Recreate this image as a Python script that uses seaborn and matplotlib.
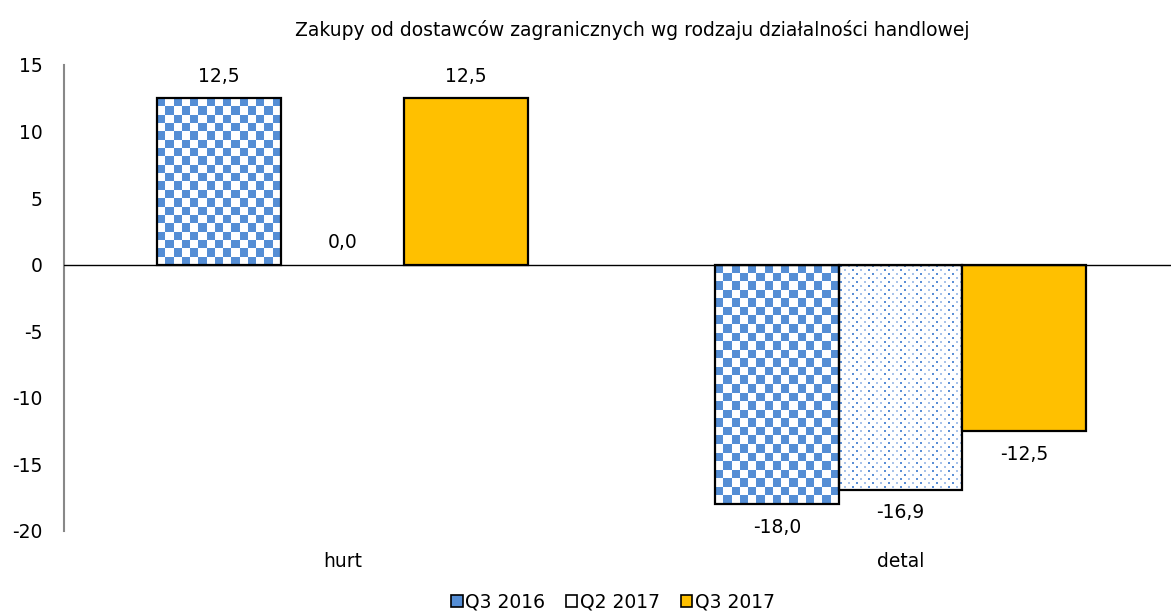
import numpy as np
import pandas as pd
import matplotlib
matplotlib.use("Agg")
import matplotlib.pyplot as plt
from matplotlib.colors import ListedColormap
from matplotlib.patches import Patch
import seaborn as sns

categories = ["hurt", "detal"]
series = ["Q3 2016", "Q2 2017", "Q3 2017"]
q3_2016 = [12.5, -18.0]
q2_2017 = [0.0, -16.9]
q3_2017 = [12.5, -12.5]
title = "Zakupy od dostawców zagranicznych wg rodzaju działalności handlowej"
yticks = [-20, -15, -10, -5, 0, 5, 10, 15]

BLUE = "#558ED5"
LIGHT = "#A8C3EA"
GOLD = "#FFC000"
FS = 13.5

df = pd.DataFrame({
    "kat": categories * 3,
    "seria": [s for s in series for _ in categories],
    "val": q3_2016 + q2_2017 + q3_2017,
})

sns.set_style("white")
plt.rcParams["font.family"] = ["DejaVu Sans"]
plt.rcParams["text.color"] = "black"
plt.rcParams["xtick.color"] = "black"
plt.rcParams["ytick.color"] = "black"

fig = plt.figure(figsize=(11.71, 6.12), dpi=100)
ax = fig.add_axes([63.5/1171, 1-531/612, 1116/1171, (531-65)/612])

sns.barplot(data=df, x="kat", y="val", hue="seria", order=categories,
            hue_order=series, palette=["white", "white", GOLD], saturation=1,
            width=0.664, errorbar=None, ax=ax, legend=False,
            edgecolor="black", linewidth=1.6, zorder=2)

ax.set_ylim(-20, 15)
ax.set_xlim(-0.5, 1.5)
ax.set_yticks(yticks)
ax.set_yticklabels([str(t) for t in yticks], fontsize=FS)
ax.tick_params(axis="y", length=0, pad=15)
ax.tick_params(axis="x", length=0, pad=15, labelsize=FS)
ax.set_xlabel("")
ax.set_ylabel("")
for s in ["top", "right", "bottom"]:
    ax.spines[s].set_visible(False)
ax.spines["left"].set_color("#888888")
ax.spines["left"].set_linewidth(1.5)
ax.axhline(0, color="black", lw=1, zorder=3)

fig.canvas.draw()

# pattern fills
for ci, cont in enumerate(ax.containers[:2]):
    for bar in cont:
        h = bar.get_height()
        if abs(h) < 1e-9:
            bar.set_edgecolor("none")
            continue
        bar.set_facecolor("none")
        bb = bar.get_window_extent()
        wpx = max(int(round(bb.width)), 1)
        hpx = max(int(round(bb.height)), 1)
        x0, x1 = bar.get_x(), bar.get_x() + bar.get_width()
        y0, y1 = bar.get_y(), bar.get_y() + h
        ylo, yhi = min(y0, y1), max(y0, y1)
        if ci == 0:
            sq = 8.5
            nx = max(int(round(wpx / sq)), 1)
            ny = max(int(round(hpx / sq)), 1)
            arr = (np.add.outer(np.arange(ny), np.arange(nx)) % 2 == 0).astype(float)
            ax.imshow(arr, cmap=ListedColormap(["white", BLUE]), vmin=0, vmax=1,
                      extent=(x0, x1, ylo, yhi), aspect="auto",
                      interpolation="nearest", origin="upper",
                      clip_path=bar, zorder=1)
        else:
            img = np.ones((hpx, wpx, 3))
            dark = np.array(matplotlib.colors.to_rgb("#5B8FD6"))
            lite = np.array(matplotlib.colors.to_rgb(LIGHT))
            for r in range(1, hpx - 1, 4):
                off = 0 if (r // 4) % 2 == 0 else 4
                for c in range(off + 1, wpx - 1, 8):
                    col = dark if ((c // 8) + (r // 4)) % 2 == 0 else lite
                    img[r:r+2, c:c+2] = col
            ax.imshow(img, extent=(x0, x1, ylo, yhi), aspect="auto",
                      interpolation="nearest", origin="upper",
                      clip_path=bar, zorder=1)

ax.set_xlim(-0.5, 1.5)
ax.set_ylim(-20, 15)

# value labels
for cont in ax.containers:
    for bar in cont:
        v = bar.get_height()
        xc = bar.get_x() + bar.get_width() / 2
        off = 16 if v >= 0 else -16.5
        ax.annotate(f"{v:.1f}".replace(".", ","), (xc, v),
                    xytext=(0, off), textcoords="offset points",
                    ha="center", va="center", fontsize=FS)

fig.text(632/1171, 1-30/612, title, ha="center", va="center", fontsize=FS)

handles = [
    Patch(facecolor=BLUE, edgecolor="black", linewidth=1.2, label=series[0]),
    Patch(facecolor="white", edgecolor="black", linewidth=1.2, label=series[1]),
    Patch(facecolor=GOLD, edgecolor="black", linewidth=1.2, label=series[2]),
]
fig.legend(handles=handles, loc="center", bbox_to_anchor=(613/1171, 1-602/612),
           ncol=3, frameon=False, fontsize=FS, handlelength=0.6, handleheight=0.6,
           handletextpad=0.15, columnspacing=1.1, borderaxespad=0)

fig.savefig("out.png", dpi=100)
